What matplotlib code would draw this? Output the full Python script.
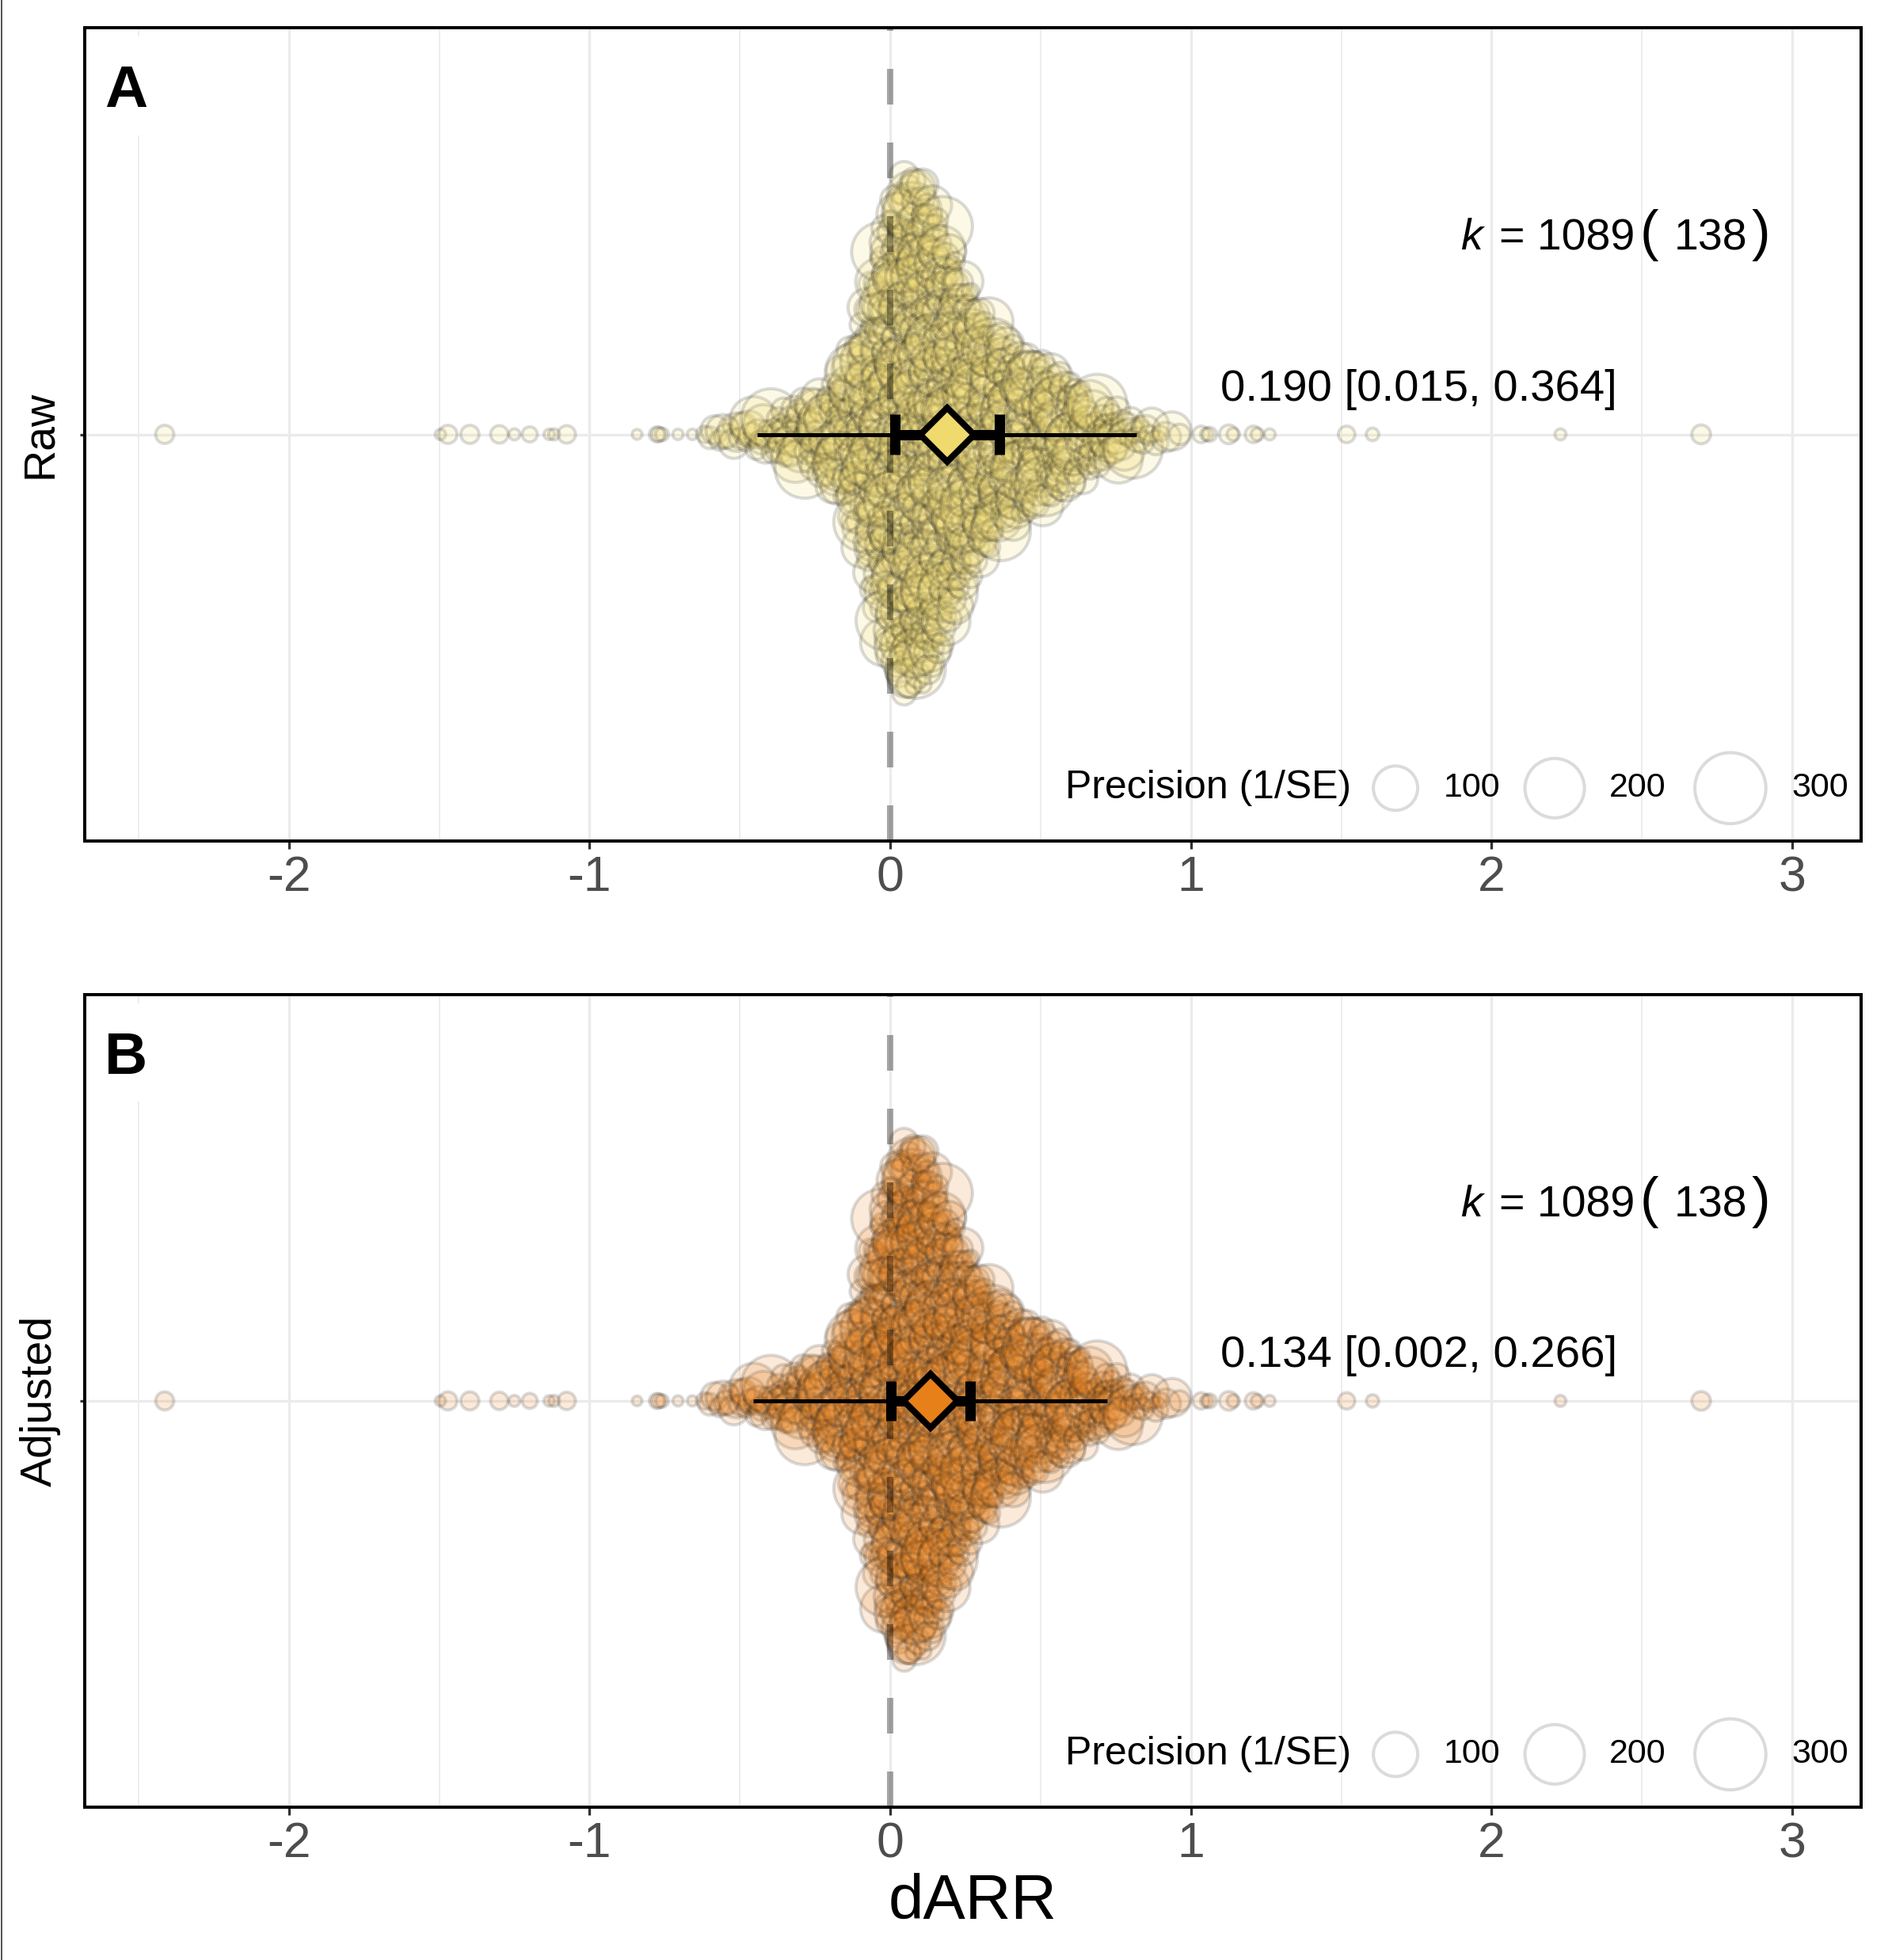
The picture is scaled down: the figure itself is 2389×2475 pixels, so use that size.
import numpy as np
import matplotlib
matplotlib.use("Agg")
import matplotlib.pyplot as plt
from matplotlib.lines import Line2D
from matplotlib.patches import Rectangle

plt.rcParams['font.family'] = ['Liberation Sans', 'DejaVu Sans']

# ---------------- data ----------------
# bulk of the effect sizes, as a histogram (bin centre, number of effect sizes)
bin_centers = [-0.60, -0.55, -0.50, -0.45, -0.40, -0.35, -0.30, -0.25, -0.20, -0.15,
               -0.10, -0.05, 0.00, 0.05, 0.10, 0.15, 0.20, 0.25, 0.30, 0.35,
               0.40, 0.45, 0.50, 0.55, 0.60, 0.65, 0.70, 0.75, 0.80, 0.85,
               0.90, 0.95]
bin_counts = [3, 4, 5, 6, 8, 11, 13, 16, 20, 30,
              44, 69, 93, 106, 102, 93, 76, 61, 51, 43,
              37, 33, 30, 26, 22, 17, 13, 11, 7, 5,
              3, 2]
bin_width = 0.05
# typical precisions (1/SE) of the bubbles in the bulk, in recurring order
precision_mix = [6, 15, 30, 10, 50, 20, 4, 35, 70, 12, 25, 8, 55, 22, 120,
                 12, 32, 18, 80, 40, 6, 26, 200, 14, 20]
# isolated effect sizes in the tails and their precisions
outlier_values = [-2.413, -1.496, -1.471, -1.398, -1.300, -1.250, -1.199, -1.134,
                  -1.118, -1.076, -0.842, -0.776, -0.770, -0.759, -0.706, -0.658,
                  1.034, 1.053, 1.062, 1.126, 1.141, 1.208, 1.221, 1.262,
                  1.518, 1.604, 2.229, 2.697]
outlier_precision = [8, 0.5, 8, 8, 7, 0.8, 4, 0.6,
                     0.8, 7, 0.3, 4, 3, 2, 0.5, 0.5,
                     5.7, 1.7, 3, 9, 1.7, 5.7, 1.7, 0.8,
                     5.7, 1.7, 0.8, 9]

panel_names = ["Raw", "Adjusted"]
panel_tags = ["A", "B"]
estimates = [0.190, 0.134]
ci_low = [0.015, 0.002]
ci_high = [0.364, 0.266]
pi_low = [-0.442, -0.455]
pi_high = [0.820, 0.721]
k_total = 1089
n_studies = 138
colours = ["#F0DA6E", "#E8801A"]
legend_breaks = [100, 200, 300]
x_major = [-2, -1, 0, 1, 2, 3]
x_minor = [-2.5, -1.5, -0.5, 0.5, 1.5, 2.5]

# ---------------- figure ----------------
W, H, DPI = 2389, 2475, 100
fig = plt.figure(figsize=(W / DPI, H / DPI), dpi=DPI)
PX = 72.0 / DPI  # points per pixel


def diam_px(p):
    return 14.0 + 4.6 * np.sqrt(np.asarray(p, dtype=float))


EDGE_LW = 4 * PX
EDGE_RGBA = (0.12, 0.12, 0.12, 0.16)


def sizes_from_precision(p):
    d_pt = diam_px(p) * PX - EDGE_LW
    return np.clip(d_pt, 1, None) ** 2


def vdc(n):
    out = np.empty(n)
    for i in range(1, n + 1):
        v, denom, k = 0.0, 1.0, i
        while k:
            denom *= 2.0
            k, r = divmod(k, 2)
            v += r / denom
        out[i - 1] = v
    return out


# expand histogram into individual effect sizes
vals, precs = [], []
j = 0
for c, n in zip(bin_centers, bin_counts):
    for i in range(n):
        vals.append(c - bin_width / 2 + (i + 0.5) / n * bin_width)
        precs.append(precision_mix[j % len(precision_mix)])
        j += 1
vals = np.array(vals + outlier_values)
precs = np.array(precs + outlier_precision, dtype=float)
order = np.argsort(vals, kind="stable")
vals = vals[order]
precs = precs[order]

# quasirandom (van der Corput) offsets scaled by local density
counts_arr = np.array(bin_counts, dtype=float)
dens = np.interp(vals, bin_centers, counts_arr / counts_arr.max(), left=0.0, right=0.0)
q = vdc(len(vals))
offsets = (2 * q - 1) * dens * 0.39

XLIM = (-2.679, 3.229)
axes_pos = [[107 / W, (H - 1062) / H, 2243 / W, 1027 / H],
            [107 / W, (H - 2282) / H, 2243 / W, 1026 / H]]
CAP_HALF = 0.0298  # half height of CI end caps, in y units

for idx in range(2):
    ax = fig.add_axes(axes_pos[idx])
    ax.set_xlim(*XLIM)
    ax.set_ylim(0.4, 1.6)
    col = matplotlib.colors.to_rgb(colours[idx])

    # grid
    for xv in x_minor:
        ax.axvline(xv, color="#EBEBEB", lw=1.8 * PX, zorder=0.5)
    for xv in x_major:
        ax.axvline(xv, color="#EBEBEB", lw=3.4 * PX, zorder=0.5)
    ax.axhline(1, color="#EBEBEB", lw=3.4 * PX, zorder=0.5)

    # points
    ax.scatter(vals, 1 + offsets, s=sizes_from_precision(precs),
               facecolor=(col[0], col[1], col[2], 0.16), edgecolor=EDGE_RGBA,
               linewidths=EDGE_LW, zorder=2)

    # zero line
    lw0 = 8 * PX
    ax.axvline(0, color=(0, 0, 0, 0.35), lw=lw0,
               linestyle=(0, (45 * PX / lw0, 48 * PX / lw0)), zorder=2.5)

    # prediction interval, confidence interval, estimate
    est = estimates[idx]
    ax.hlines(1, pi_low[idx], pi_high[idx], color="black", lw=5 * PX, zorder=3)
    ax.hlines(1, ci_low[idx], ci_high[idx], color="black", lw=13 * PX, zorder=3.5)
    ax.vlines([ci_low[idx], ci_high[idx]], 1 - CAP_HALF, 1 + CAP_HALF,
              color="black", lw=13 * PX, zorder=3.5)
    ax.plot([est], [1], marker="D", ms=48 * PX, mfc=colours[idx], mec="black",
            mew=8 * PX, zorder=4, linestyle="none")

    # annotations
    ax.text(1.097, 1.050, f"{est:.3f} [{ci_low[idx]:.3f}, {ci_high[idx]:.3f}]",
            fontsize=40.5, ha="left", va="baseline", zorder=5)
    yk = 1.2725
    ax.text(1.897, yk, "k", fontsize=40, style="italic", ha="left", va="baseline", zorder=5)
    ax.text(2.026, yk, f"= {k_total}", fontsize=40, ha="left", va="baseline", zorder=5)
    ax.text(2.492, yk, "(", fontsize=51, ha="left", va="baseline", zorder=5)
    ax.text(2.608, yk, f"{n_studies}", fontsize=40, ha="left", va="baseline", zorder=5)
    ax.text(2.863, yk, ")", fontsize=51, ha="left", va="baseline", zorder=5)

    # tag
    ax.add_patch(Rectangle((0.003, 0.868), 0.042, 0.121, transform=ax.transAxes,
                           facecolor="white", edgecolor="none", zorder=1))
    ax.text(0.0110, 0.9030, panel_tags[idx], transform=ax.transAxes, fontsize=54,
            fontweight="bold", ha="left", va="baseline", zorder=5)

    # size legend
    ly = 0.0650
    ax.text(0.5519, ly, "Precision (1/SE)", transform=ax.transAxes, fontsize=36,
            ha="left", va="center", zorder=5)
    leg_x = [0.7379, 0.8275, 0.9264]
    lab_x = [0.7650, 0.8580, 0.9608]
    ax.scatter(leg_x, [ly] * 3, s=sizes_from_precision(legend_breaks),
               transform=ax.transAxes, facecolor="white", edgecolor=EDGE_RGBA,
               linewidths=EDGE_LW, zorder=5)
    for lx, b in zip(lab_x, legend_breaks):
        ax.text(lx, ly, str(b), transform=ax.transAxes, fontsize=31,
                ha="left", va="center", zorder=5)

    # axes styling
    ax.set_xticks(x_major)
    ax.set_xticklabels([str(v) if v >= 0 else "-" + str(abs(v)) for v in x_major])
    ax.set_xticks(x_minor, minor=True)
    ax.tick_params(axis="x", which="major", length=10 * PX, width=3.3 * PX,
                   color="#333333", labelsize=45, labelcolor="#4D4D4D", pad=7 * PX)
    ax.tick_params(axis="x", which="minor", length=0)
    ax.set_yticks([1])
    ax.set_yticklabels([panel_names[idx]], rotation=90, va="center", fontsize=40,
                       color="black")
    ax.tick_params(axis="y", length=6 * PX, width=3.3 * PX, color="#333333",
                   pad=24 * PX)
    for sp in ax.spines.values():
        sp.set_linewidth(4 * PX)
        sp.set_color("black")
        sp.set_zorder(6)

fig.text(1228 / W, (H - 2423) / H, "dARR", fontsize=57.5, ha="center", va="baseline")
fig.add_artist(Line2D([1.5 / W, 1.5 / W], [0, 1], color="#555555", lw=2 * PX))

fig.savefig("out.png", dpi=DPI)
